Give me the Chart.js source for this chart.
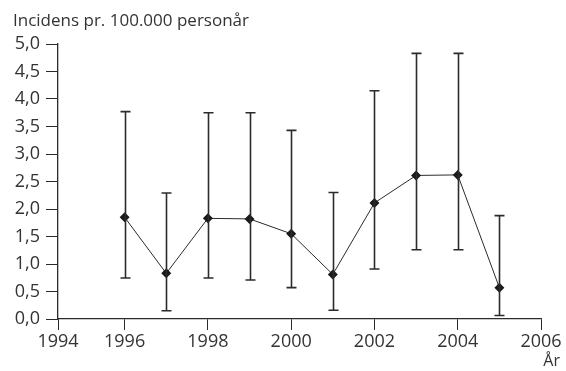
<!DOCTYPE html>
<html>
<head>
<meta charset="utf-8">
<script src="https://cdn.jsdelivr.net/npm/chart.js@4"></script>
<style>
  html, body { margin: 0; padding: 0; background: #fff; }
  #wrap { width: 566px; height: 371px; }
</style>
</head>
<body>
<div id="wrap"><canvas id="c" width="566" height="371"></canvas></div>
<script>
// ---- data ----
const years = [1996, 1997, 1998, 1999, 2000, 2001, 2002, 2003, 2004, 2005];
const incidence = [1.85, 0.83, 1.83, 1.82, 1.55, 0.81, 2.11, 2.61, 2.62, 0.57];
const lower = [0.745, 0.15, 0.745, 0.71, 0.57, 0.16, 0.91, 1.26, 1.26, 0.065];
const upper = [3.77, 2.29, 3.75, 3.75, 3.43, 2.30, 4.15, 4.83, 4.83, 1.88];
const xTickValues = [1994.4, 1996, 1998, 2000, 2002, 2004, 2006];
const xTickLabels = ['1994', '1996', '1998', '2000', '2002', '2004', '2006'];
const yTitle = 'Incidens pr. 100.000 personår';
const xTitle = 'År';

const ink = '#2b2b2b';
const textCol = '#333333';
const FONT = 'Open Sans';

Chart.defaults.font.family = FONT;
Chart.defaults.font.size = 18;
Chart.defaults.color = textCol;

const errorBars = {
  id: 'errorBars',
  afterDatasetsDraw(chart) {
    const { ctx, scales: { x, y } } = chart;
    ctx.save();
    ctx.strokeStyle = ink;
    ctx.lineWidth = 1.6;
    years.forEach((yr, i) => {
      const px = Math.round(x.getPixelForValue(yr)) + 0.5;
      const top = y.getPixelForValue(upper[i]);
      const bot = y.getPixelForValue(lower[i]);
      ctx.beginPath();
      ctx.moveTo(px, top); ctx.lineTo(px, bot);
      ctx.moveTo(px - 5, top); ctx.lineTo(px + 5, top);
      ctx.moveTo(px - 5, bot); ctx.lineTo(px + 5, bot);
      ctx.stroke();
    });
    ctx.restore();
  }
};

const texts = {
  id: 'texts',
  afterDraw(chart) {
    const ctx = chart.ctx;
    ctx.save();
    ctx.fillStyle = textCol;
    ctx.font = '17px "' + FONT + '"';
    ctx.textAlign = 'left';
    ctx.textBaseline = 'alphabetic';
    ctx.fillText(yTitle, 13, 26);
    ctx.font = '16px "' + FONT + '"';
    ctx.textAlign = 'right';
    ctx.fillText(xTitle, 560, 366);
    ctx.restore();
  }
};

new Chart(document.getElementById('c'), {
  type: 'line',
  data: {
    datasets: [{
      data: years.map((yr, i) => ({ x: yr, y: incidence[i] })),
      borderColor: ink,
      borderWidth: 1,
      backgroundColor: '#1a1a1a',
      pointStyle: 'rectRot',
      pointRadius: 5,
      pointBorderWidth: 0,
      pointBackgroundColor: '#1a1a1a',
      tension: 0
    }]
  },
  options: {
    responsive: false,
    animation: false,
    events: [],
    layout: { padding: { top: 44, right: 25, left: 0, bottom: 0 } },
    plugins: { legend: { display: false }, tooltip: { enabled: false }, title: { display: false } },
    scales: {
      x: {
        type: 'linear',
        min: 1994.4,
        max: 2006,
        afterBuildTicks(scale) { scale.ticks = xTickValues.map(v => ({ value: v })); },
        afterFit(scale) { scale.height = 52; },
        grid: { drawOnChartArea: false, tickLength: 11, color: ink, lineWidth: 1 },
        border: { color: ink, width: 1.3 },
        ticks: {
          autoSkip: false,
          maxRotation: 0,
          padding: 1,
          color: textCol,
          callback: (v) => xTickLabels[xTickValues.indexOf(v)] ?? ''
        }
      },
      y: {
        min: 0,
        max: 5,
        afterFit(scale) { scale.width = 58; },
        grid: { drawOnChartArea: false, tickLength: 12, color: ink, lineWidth: 1 },
        border: { color: ink, width: 1.3 },
        ticks: {
          stepSize: 0.5,
          padding: 6,
          color: textCol,
          callback: (v) => Number(v).toFixed(1).replace('.', ',')
        }
      }
    }
  },
  plugins: [errorBars, texts]
});
</script>
</body>
</html>
